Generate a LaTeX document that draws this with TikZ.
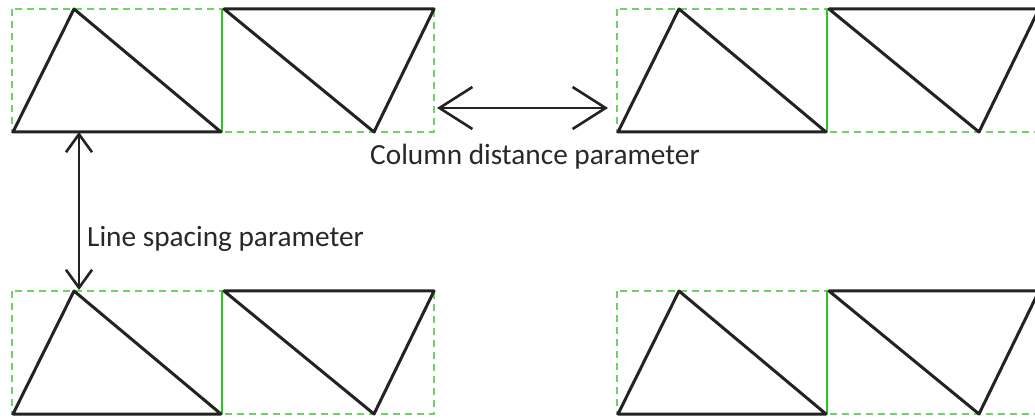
\documentclass[tikz,border=0pt]{standalone}
\usepackage{fontspec}
\setmainfont{Carlito}
\usetikzlibrary{arrows.meta}
\definecolor{dgreen}{RGB}{110,210,100}
\definecolor{sgreen}{RGB}{40,200,30}
\definecolor{ink}{RGB}{35,35,35}
\definecolor{txt}{RGB}{40,40,40}
\tikzset{
  x=1pt, y=1pt,
  dashbox/.style={draw=dgreen, line width=2.6pt, dash pattern=on 7pt off 5pt},
  greenline/.style={draw=sgreen, line width=2.6pt},
  shapeline/.style={draw=ink, line width=3pt, line join=round},
  grp/.pic={
    \draw[dashbox] (0,0) rectangle (422,-123);
    \draw[greenline] (210,0) -- (210,-123);
    \draw[shapeline] (1,-123) -- (62,0) -- (209,-123) -- cycle;
    \draw[shapeline] (212,0) -- (422,0) -- (362,-123) -- cycle;
  },
  bigarrow/.style={draw=ink, line width=2.6pt, {Straight Barb[length=33pt,width=42pt,line width=2.6pt]}-{Straight Barb[length=33pt,width=42pt,line width=2.6pt]}},
  smallarrow/.style={draw=ink, line width=2.6pt, {Straight Barb[length=18pt,width=26pt,line width=2.6pt]}-{Straight Barb[length=18pt,width=26pt,line width=2.6pt]}},
  lbl/.style={text=txt, font=\fontsize{29.3}{34}\selectfont, inner sep=0pt, anchor=base west}
}
\begin{document}
\begin{tikzpicture}
\useasboundingbox (0,0) rectangle (1035,-419);
\clip (0,0) rectangle (1035,-419);
\fill[white] (0,0) rectangle (1035,-419);
\pic (TL) at (12,-9) {grp};
\pic (TR) at (617,-9) {grp};
\pic (BL) at (12,-291) {grp};
\pic (BR) at (617,-291) {grp};
\coordinate (colL) at (437,-108);
\coordinate (colR) at (608,-108);
\coordinate (lsT) at (79,-132);
\coordinate (lsB) at (79,-290);
\draw[bigarrow] (colL) -- (colR);
\draw[smallarrow] (lsT) -- (lsB);
\node[lbl] (collabel) at (370,-165) {Column distance parameter};
\node[lbl] (lslabel) at (87,-247) {Line spacing parameter};
\end{tikzpicture}
\end{document}
